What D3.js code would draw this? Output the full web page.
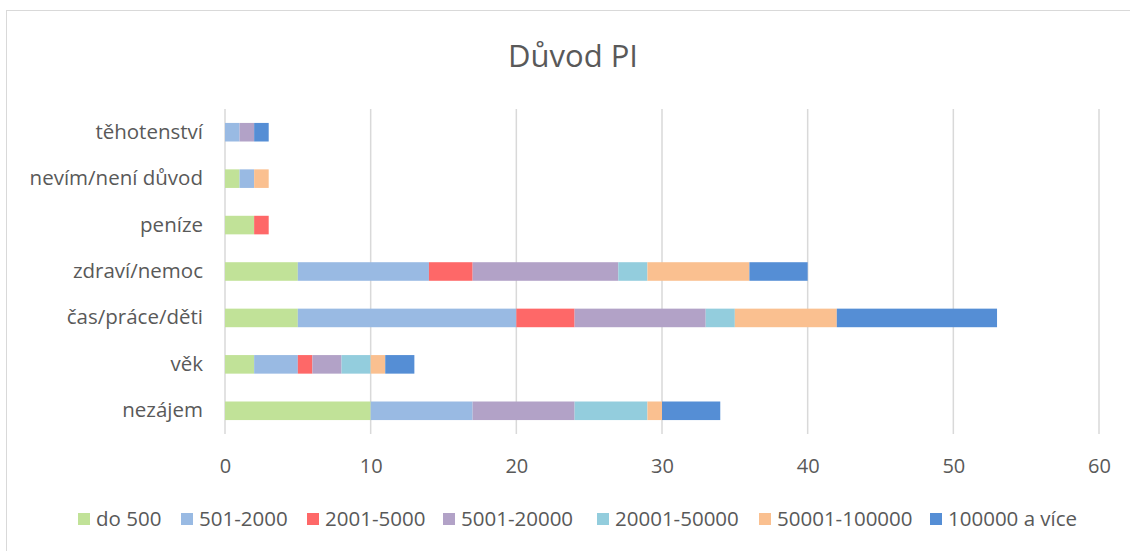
<!DOCTYPE html>
<html><head><meta charset="utf-8">
<script src="https://cdn.jsdelivr.net/npm/d3@7"></script>
<style>body{margin:0;background:#fff;}svg{display:block;font-family:"Open Sans",sans-serif;}</style>
</head><body>
<script>
const categories = ["těhotenství","nevím/není důvod","peníze","zdraví/nemoc","čas/práce/děti","věk","nezájem"];
const seriesNames = ["do 500","501-2000","2001-5000","5001-20000","20001-50000","50001-100000","100000 a více"];
const colors = ["#c1e298","#99bae3","#fe6868","#b2a2c7","#93cddd","#fac090","#558ed5"];
const s_do500 =    [0,1,2,5,5,2,10];
const s_501_2000 = [1,1,0,9,15,3,7];
const s_2001_5000 =[0,0,1,3,4,1,0];
const s_5001_20000=[1,0,0,10,9,2,7];
const s_20001_50000=[0,0,0,2,2,2,5];
const s_50001_100000=[0,1,0,7,7,1,1];
const s_100000 =   [1,0,0,4,11,2,4];
const xTicks = [0,10,20,30,40,50,60];

const seriesVals = [s_do500,s_501_2000,s_2001_5000,s_5001_20000,s_20001_50000,s_50001_100000,s_100000];
const W=1130,H=551;
const svg=d3.select("body").append("svg").attr("width",W).attr("height",H);
svg.append("rect").attr("x",6.5).attr("y",10.5).attr("width",1140).attr("height",560).attr("fill","#fff").attr("stroke","#d9d9d9");

const x=d3.scaleLinear().domain([0,60]).range([225,1099]);
const y=d3.scaleBand().domain(categories).range([109,434]).paddingInner(0.6).paddingOuter(0.3);

svg.append("text").attr("x",573).attr("y",67).attr("text-anchor","middle").attr("font-size",31).attr("fill","#595959").text("Důvod PI");

// gridlines
svg.append("g").selectAll("line").data(xTicks).join("line")
 .attr("x1",d=>x(d)).attr("x2",d=>x(d)).attr("y1",109).attr("y2",434)
 .attr("stroke","#d9d9d9").attr("stroke-width",1.5);

const table = categories.map((c,i)=>{const o={cat:c};seriesNames.forEach((s,j)=>o[s]=seriesVals[j][i]);return o;});
const stack=d3.stack().keys(seriesNames)(table);
svg.append("g").selectAll("g").data(stack).join("g").attr("fill",(d,i)=>colors[i])
 .selectAll("rect").data(d=>d).join("rect")
 .attr("x",d=>x(d[0])).attr("width",d=>x(d[1])-x(d[0]))
 .attr("y",d=>y(d.data.cat)).attr("height",y.bandwidth());

// axes labels
const xAxis=svg.append("g").attr("transform","translate(0,434)").call(d3.axisBottom(x).tickValues(xTicks).tickSize(0).tickPadding(25));
xAxis.select(".domain").remove();
xAxis.selectAll("text").attr("font-size",20).attr("fill","#595959").attr("font-family","Open Sans");
const yAxis=svg.append("g").attr("transform","translate(225,0)").call(d3.axisLeft(y).tickSize(0).tickPadding(22));
yAxis.select(".domain").remove();
yAxis.selectAll("text").attr("font-size",20.5).attr("fill","#595959").attr("font-family","Open Sans");

// legend
const legX=[78,181,307,443,597,759,930];
const leg=svg.append("g").selectAll("g").data(seriesNames).join("g").attr("transform",(d,i)=>`translate(${legX[i]},519)`);
leg.append("rect").attr("x",0).attr("y",-6).attr("width",12).attr("height",12).attr("fill",(d,i)=>colors[i]);
leg.append("text").attr("x",18).attr("y",7).attr("font-size",20.5).attr("fill","#595959").text(d=>d);
</script>
</body></html>
